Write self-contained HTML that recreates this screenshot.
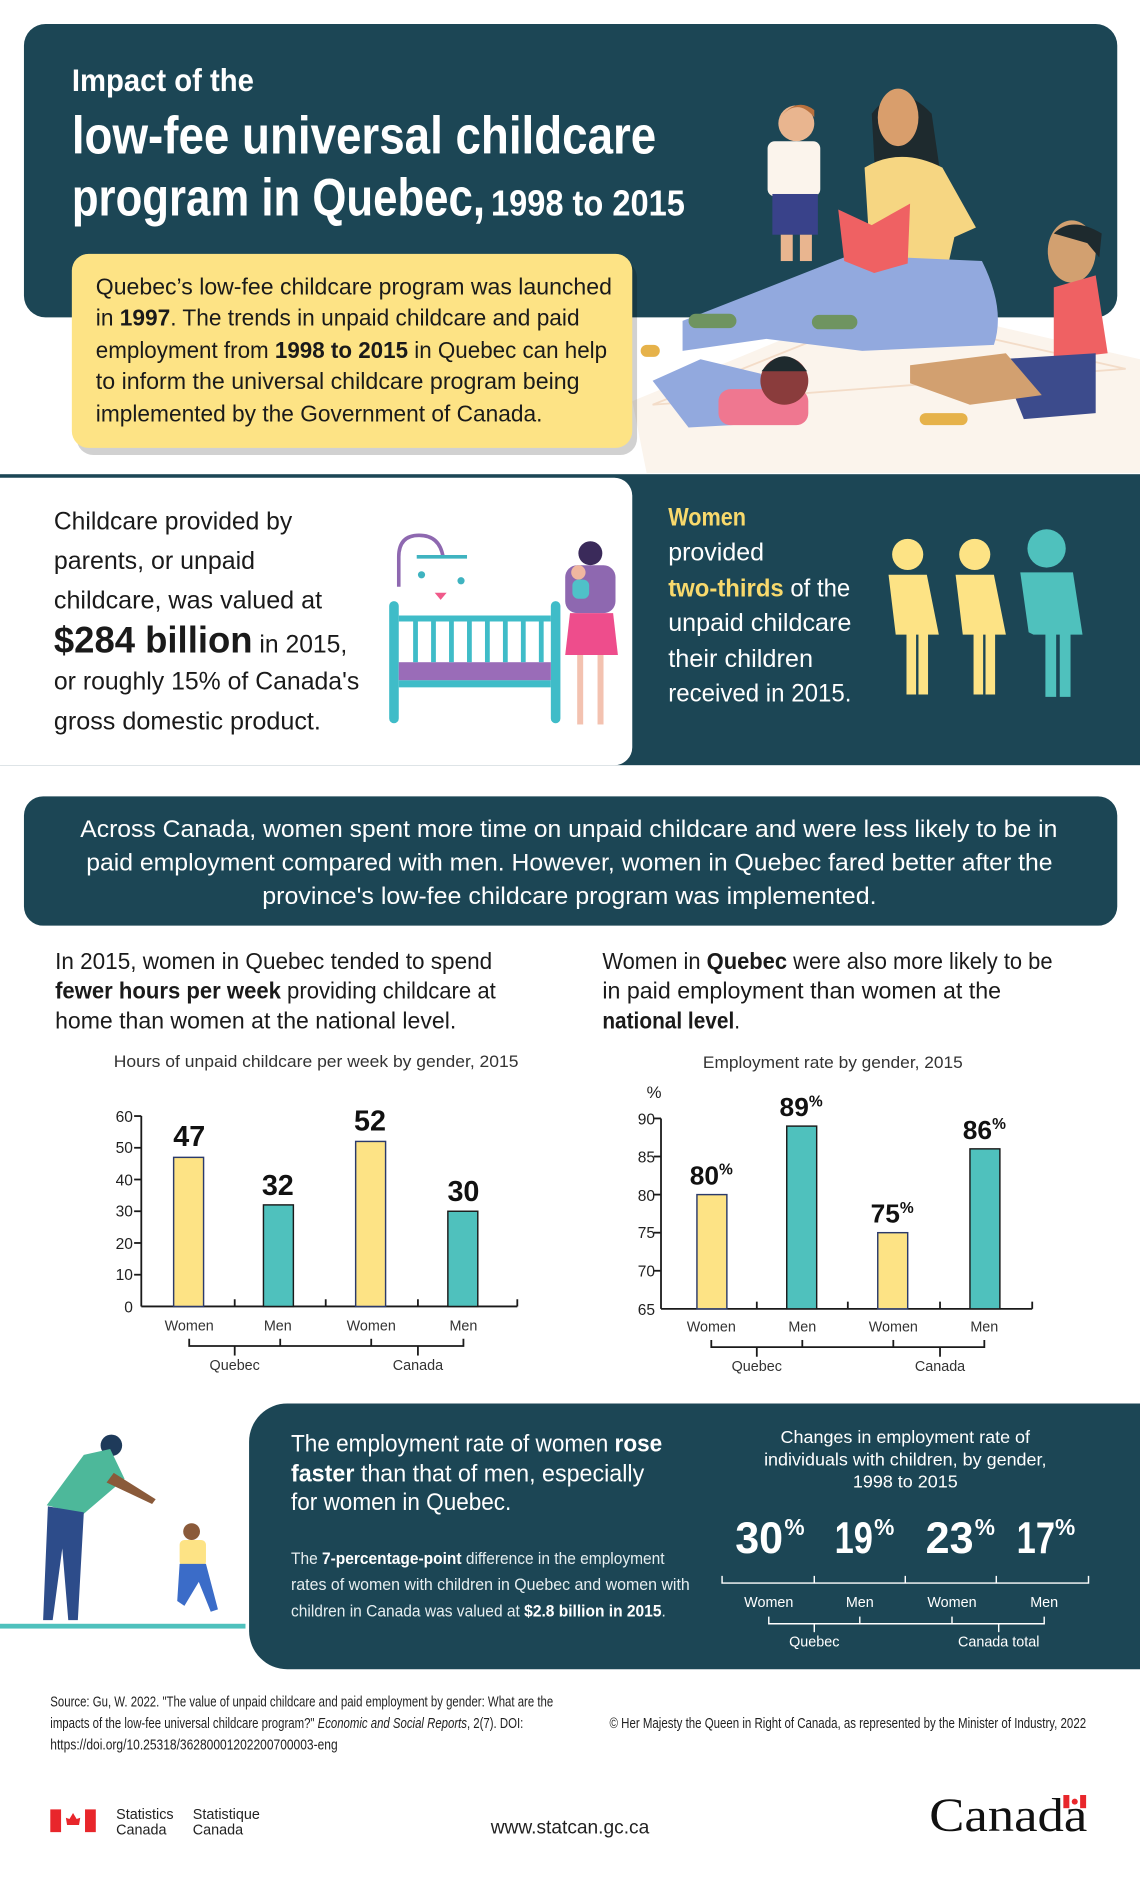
<!DOCTYPE html>
<html><head><meta charset="utf-8"><style>
html,body{margin:0;padding:0;background:#fff;}
svg{display:block;}
text{font-family:"Liberation Sans Narrow","Liberation Sans",sans-serif;}
</style></head><body>
<svg width="1140" height="1878" viewBox="0 0 952 1568.3" xmlns="http://www.w3.org/2000/svg">
<rect width="952" height="1569" fill="#fff"/>
<!-- top header -->
<rect x="20" y="20" width="913" height="245" rx="18" fill="#1c4655"/>
<!-- rug -->
<polygon points="528,335 735,250 952,300 952,395 540,395" fill="#fbf4ec"/>
<polygon points="545,338 735,262 940,308" fill="none" stroke="#f3dcc8" stroke-width="1.5"/>
<!-- standing child -->
<circle cx="665" cy="103" r="15" fill="#e9b58f"/>
<path d="M650,100 q15,-20 30,-2 l0,-6 q-15,-12 -30,8z" fill="#b8703d"/>
<rect x="641" y="118" width="44" height="46" rx="6" fill="#fbf4ec"/>
<rect x="645" y="162" width="38" height="34" fill="#39428a"/>
<rect x="652" y="196" width="10" height="22" fill="#e9b58f"/><rect x="668" y="196" width="10" height="22" fill="#e9b58f"/>
<!-- mother -->
<path d="M728,95 q22,-30 50,0 l8,55 -55,0z" fill="#1e2a2e"/>
<ellipse cx="750" cy="98" rx="17" ry="24" fill="#d99e6c"/>
<path d="M722,140 q30,-18 65,0 l28,50 -18,8 -5,22 -65,0z" fill="#f6d682"/>
<path d="M570,268 l140,-55 110,5 q20,40 10,70 l-110,5 -80,-10 -70,10z" fill="#92a9de"/>
<rect x="575" y="262" width="40" height="12" rx="6" fill="#6f9460"/>
<rect x="678" y="263" width="38" height="12" rx="6" fill="#6f9460"/>
<polygon points="700,175 728,188 760,170 758,220 730,228 705,218" fill="#ef6163"/>
<!-- girl lying -->
<path d="M545,318 l40,-18 50,12 30,40 -90,5 z" fill="#92a9de"/>
<rect x="600" y="325" width="75" height="30" rx="10" fill="#ef7790"/>
<circle cx="655" cy="318" r="20" fill="#8a3c3c"/>
<path d="M636,310 q19,-25 38,0z" fill="#1e2a2e"/>
<rect x="535" y="288" width="16" height="10" rx="5" fill="#e6b24a"/>
<!-- boy sitting -->
<ellipse cx="895" cy="210" rx="20" ry="26" fill="#d2a070"/>
<path d="M880,195 q15,-15 40,0 l-2,20 -10,-12z" fill="#1e2a2e"/>
<path d="M880,240 l35,-10 10,65 -45,5z" fill="#ef6163"/>
<path d="M835,300 l80,-5 0,50 -60,5z" fill="#3c4b8c"/>
<path d="M760,305 l80,-10 30,35 -60,8 -50,-18z" fill="#d2a070"/>
<rect x="768" y="345" width="40" height="10" rx="5" fill="#e6b24a"/>
<!-- title -->
<text x="60" y="76" font-size="26" font-weight="bold" fill="#fff" textLength="152" lengthAdjust="spacingAndGlyphs">Impact of the</text>
<text x="60" y="128" font-size="44" font-weight="bold" fill="#fff" textLength="488" lengthAdjust="spacingAndGlyphs">low-fee universal childcare</text>
<text x="60" y="180" font-size="44" font-weight="bold" fill="#fff" textLength="345" lengthAdjust="spacingAndGlyphs">program in Quebec,</text>
<text x="410" y="180" font-size="30" font-weight="bold" fill="#fff" textLength="162" lengthAdjust="spacingAndGlyphs">1998 to 2015</text>
<!-- yellow box -->
<rect x="64" y="218" width="468" height="162" rx="14" fill="#000" opacity="0.18"/>
<rect x="60" y="212" width="468" height="162" rx="14" fill="#fde385"/>
<g font-size="19" fill="#1a1a1a">
<text x="80" y="246" textLength="431" lengthAdjust="spacingAndGlyphs">Quebec’s low-fee childcare program was launched</text>
<text x="80" y="272" textLength="404" lengthAdjust="spacingAndGlyphs">in <tspan font-weight="bold">1997</tspan>. The trends in unpaid childcare and paid</text>
<text x="80" y="299" textLength="427" lengthAdjust="spacingAndGlyphs">employment from <tspan font-weight="bold">1998 to 2015</tspan> in Quebec can help</text>
<text x="80" y="325" textLength="404" lengthAdjust="spacingAndGlyphs">to inform the universal childcare program being</text>
<text x="80" y="352" textLength="373" lengthAdjust="spacingAndGlyphs">implemented by the Government of Canada.</text>
</g>
<!-- band 2 -->
<rect x="0" y="396" width="952" height="243" fill="#1c4655"/>
<path d="M0,399 h513 a15,15 0 0 1 15,15 v210 a15,15 0 0 1 -15,15 h-513z" fill="#fff"/>
<g font-size="21" fill="#1a1a1a">
<text x="45" y="442" textLength="199" lengthAdjust="spacingAndGlyphs">Childcare provided by</text>
<text x="45" y="475" textLength="168" lengthAdjust="spacingAndGlyphs">parents, or unpaid</text>
<text x="45" y="508" textLength="224" lengthAdjust="spacingAndGlyphs">childcare, was valued at</text>
<text x="45" y="545" textLength="245" lengthAdjust="spacingAndGlyphs"><tspan font-size="31" font-weight="bold">$284 billion</tspan> in 2015,</text>
<text x="45" y="576" textLength="255" lengthAdjust="spacingAndGlyphs">or roughly 15% of Canada's</text>
<text x="45" y="609" textLength="223" lengthAdjust="spacingAndGlyphs">gross domestic product.</text>
</g>
<!-- crib -->
<path d="M333,490 v-25 q0,-18 17,-18 q17,0 20,18" fill="none" stroke="#8e68b0" stroke-width="3"/>
<line x1="348" y1="465" x2="390" y2="465" stroke="#3fb3c0" stroke-width="3"/>
<circle cx="352" cy="480" r="3" fill="#3fb3c0"/><path d="M363,495 l5,6 5,-6z" fill="#f05a8a"/><circle cx="385" cy="485" r="3" fill="#3fb3c0"/>
<rect x="325" y="502" width="8" height="102" rx="4" fill="#3fbcc8"/>
<rect x="460" y="502" width="8" height="102" rx="4" fill="#3fbcc8"/>
<rect x="333" y="514" width="127" height="5" fill="#3fbcc8"/>
<rect x="333" y="568" width="127" height="6" fill="#3fbcc8"/>
<rect x="333" y="553" width="127" height="15" fill="#9a6cb8"/>
<g fill="#3fbcc8"><rect x="345" y="519" width="4" height="34"/><rect x="360" y="519" width="4" height="34"/><rect x="375" y="519" width="4" height="34"/><rect x="390" y="519" width="4" height="34"/><rect x="405" y="519" width="4" height="34"/><rect x="420" y="519" width="4" height="34"/><rect x="435" y="519" width="4" height="34"/><rect x="450" y="519" width="4" height="34"/></g>
<!-- mom w/ baby -->
<circle cx="493" cy="462" r="10" fill="#3a2a5a"/>
<rect x="472" y="472" width="42" height="40" rx="10" fill="#8e68b0"/>
<circle cx="483" cy="478" r="6" fill="#f0b7a0"/><rect x="478" y="484" width="14" height="16" rx="5" fill="#4fc1c8"/>
<path d="M476,512 h36 l4,35 h-44z" fill="#ee4d8c"/>
<rect x="482" y="547" width="5" height="58" fill="#f3c2b0"/><rect x="499" y="547" width="5" height="58" fill="#f3c2b0"/>
<!-- women text -->
<g font-size="21" fill="#fff">
<text x="558" y="439" font-weight="bold" fill="#f8d96c" textLength="65" lengthAdjust="spacingAndGlyphs">Women</text>
<text x="558" y="468" textLength="80" lengthAdjust="spacingAndGlyphs">provided</text>
<text x="558" y="498" textLength="152" lengthAdjust="spacingAndGlyphs"><tspan font-weight="bold" fill="#f8d96c">two-thirds</tspan> of the</text>
<text x="558" y="527" textLength="153" lengthAdjust="spacingAndGlyphs">unpaid childcare</text>
<text x="558" y="557" textLength="121" lengthAdjust="spacingAndGlyphs">their children</text>
<text x="558" y="586" textLength="153" lengthAdjust="spacingAndGlyphs">received in 2015.</text>
</g>
<!-- figures -->
<g fill="#fde385">
<circle cx="758" cy="463" r="13"/><path d="M742,480 h32 l10,50 h-9 v50 h-8 v-50 h-2 v50 h-8 v-50 h-9z"/>
<circle cx="814" cy="463" r="13"/><path d="M798,480 h32 l10,50 h-9 v50 h-8 v-50 h-2 v50 h-8 v-50 h-9z"/>
</g>
<g fill="#4fc1bd"><circle cx="874" cy="458" r="16"/><path d="M852,478 h44 l8,52 h-10 v52 h-9 v-52 h-3 v52 h-9 v-52 h-10 l-4,-2z"/></g>
<!-- banner -->
<rect x="20" y="665" width="913" height="108" rx="16" fill="#1c4655"/>
<g font-size="20" fill="#fff" style="font-family:'Liberation Sans',sans-serif">
<text x="67" y="699" style="font-family:'Liberation Sans',sans-serif" textLength="816" lengthAdjust="spacingAndGlyphs">Across Canada, women spent more time on unpaid childcare and were less likely to be in</text>
<text x="72" y="727" style="font-family:'Liberation Sans',sans-serif" textLength="807" lengthAdjust="spacingAndGlyphs">paid employment compared with men. However, women in Quebec fared better after the</text>
<text x="219" y="755" style="font-family:'Liberation Sans',sans-serif" textLength="513" lengthAdjust="spacingAndGlyphs">province's low-fee childcare program was implemented.</text>
</g>
<!-- chart texts -->
<g font-size="19" fill="#1a1a1a">
<text x="46" y="809" textLength="365" lengthAdjust="spacingAndGlyphs">In 2015, women in Quebec tended to spend</text>
<text x="46" y="834" textLength="368" lengthAdjust="spacingAndGlyphs"><tspan font-weight="bold">fewer hours per week</tspan> providing childcare at</text>
<text x="46" y="859" textLength="335" lengthAdjust="spacingAndGlyphs">home than women at the national level.</text>
<text x="503" y="809" textLength="376" lengthAdjust="spacingAndGlyphs">Women in <tspan font-weight="bold">Quebec</tspan> were also more likely to be</text>
<text x="503" y="834" textLength="333" lengthAdjust="spacingAndGlyphs">in paid employment than women at the</text>
<text x="503" y="859" textLength="115" lengthAdjust="spacingAndGlyphs"><tspan font-weight="bold">national level</tspan>.</text>
</g>
<g font-size="14" fill="#333">
<text x="95" y="891" textLength="338" lengthAdjust="spacingAndGlyphs">Hours of unpaid childcare per week by gender, 2015</text>
<text x="587" y="892" textLength="217" lengthAdjust="spacingAndGlyphs">Employment rate by gender, 2015</text>
</g>
<!-- chart 1 -->
<g stroke="#1a1a1a" stroke-width="1.5" fill="none">
<line x1="118" y1="932" x2="118" y2="1091"/><line x1="118" y1="1091" x2="432" y2="1091"/>
<line x1="112" y1="932" x2="118" y2="932"/><line x1="112" y1="958.5" x2="118" y2="958.5"/><line x1="112" y1="985" x2="118" y2="985"/><line x1="112" y1="1011.5" x2="118" y2="1011.5"/><line x1="112" y1="1038" x2="118" y2="1038"/><line x1="112" y1="1064.5" x2="118" y2="1064.5"/>
<line x1="196" y1="1085" x2="196" y2="1091"/><line x1="272" y1="1085" x2="272" y2="1091"/><line x1="349" y1="1085" x2="349" y2="1091"/><line x1="432" y1="1085" x2="432" y2="1091"/>
<polyline points="158,1118 158,1124 387,1124 387,1118"/><line x1="234" y1="1118" x2="234" y2="1124"/><line x1="310" y1="1118" x2="310" y2="1124"/>
<line x1="196" y1="1124" x2="196" y2="1132"/><line x1="349" y1="1124" x2="349" y2="1132"/>
</g>
<g stroke="#2b3a6b" stroke-width="1.2">
<rect x="145" y="966.5" width="25" height="124.5" fill="#fde385"/>
<rect x="220" y="1006.2" width="25" height="84.8" fill="#4fc1bd" stroke="#1a1a1a"/>
<rect x="297" y="953.2" width="25" height="137.8" fill="#fde385"/>
<rect x="374" y="1011.5" width="25" height="79.5" fill="#4fc1bd" stroke="#1a1a1a"/>
</g>
<g font-size="13" fill="#222" text-anchor="end">
<text x="111" y="937">60</text><text x="111" y="963">50</text><text x="111" y="990">40</text><text x="111" y="1016">30</text><text x="111" y="1043">20</text><text x="111" y="1069">10</text><text x="111" y="1096">0</text>
</g>
<g font-size="24" font-weight="bold" fill="#111" text-anchor="middle">
<text x="158" y="957">47</text><text x="232" y="998">32</text><text x="309" y="944">52</text><text x="387" y="1003">30</text>
</g>
<g font-size="12" fill="#333" text-anchor="middle">
<text x="158" y="1111">Women</text><text x="232" y="1111">Men</text><text x="310" y="1111">Women</text><text x="387" y="1111">Men</text>
<text x="196" y="1144">Quebec</text><text x="349" y="1144">Canada</text>
</g>
<!-- chart 2 -->
<g stroke="#1a1a1a" stroke-width="1.5" fill="none">
<line x1="552" y1="934" x2="552" y2="1093"/><line x1="552" y1="1093" x2="862" y2="1093"/>
<line x1="546" y1="934" x2="552" y2="934"/><line x1="546" y1="965.8" x2="552" y2="965.8"/><line x1="546" y1="997.6" x2="552" y2="997.6"/><line x1="546" y1="1029.4" x2="552" y2="1029.4"/><line x1="546" y1="1061.2" x2="552" y2="1061.2"/>
<line x1="632" y1="1087" x2="632" y2="1093"/><line x1="708" y1="1087" x2="708" y2="1093"/><line x1="785" y1="1087" x2="785" y2="1093"/><line x1="862" y1="1087" x2="862" y2="1093"/>
<polyline points="594,1119 594,1125 822,1125 822,1119"/><line x1="670" y1="1119" x2="670" y2="1125"/><line x1="746" y1="1119" x2="746" y2="1125"/>
<line x1="632" y1="1125" x2="632" y2="1133"/><line x1="785" y1="1125" x2="785" y2="1133"/>
</g>
<g stroke="#2b3a6b" stroke-width="1.2">
<rect x="582" y="997.6" width="25" height="95.4" fill="#fde385"/>
<rect x="657" y="940.4" width="25" height="152.6" fill="#4fc1bd" stroke="#1a1a1a"/>
<rect x="733" y="1029.4" width="25" height="63.6" fill="#fde385"/>
<rect x="810" y="959.4" width="25" height="133.6" fill="#4fc1bd" stroke="#1a1a1a"/>
</g>
<g font-size="13" fill="#222" text-anchor="end">
<text x="547" y="939">90</text><text x="547" y="971">85</text><text x="547" y="1003">80</text><text x="547" y="1034">75</text><text x="547" y="1066">70</text><text x="547" y="1098">65</text>
</g>
<text x="540" y="917" font-size="14" fill="#222">%</text>
<g font-size="22" font-weight="bold" fill="#111">
<text x="576" y="989">80<tspan font-size="13" dy="-8">%</tspan></text>
<text x="651" y="932">89<tspan font-size="13" dy="-8">%</tspan></text>
<text x="727" y="1021">75<tspan font-size="13" dy="-8">%</tspan></text>
<text x="804" y="951">86<tspan font-size="13" dy="-8">%</tspan></text>
</g>
<g font-size="12" fill="#333" text-anchor="middle">
<text x="594" y="1112">Women</text><text x="670" y="1112">Men</text><text x="746" y="1112">Women</text><text x="822" y="1112">Men</text>
<text x="632" y="1145">Quebec</text><text x="785" y="1145">Canada</text>
</g>
<!-- dad illustration -->
<rect x="0" y="1356" width="205" height="4" fill="#4fc1bd"/>
<circle cx="93" cy="1207" r="9" fill="#1e3a5a"/>
<path d="M70,1215 l22,-5 12,25 -35,30 -30,-8z" fill="#4db89a"/>
<path d="M40,1258 l30,5 -5,90 h-8 l-5,-60 -8,60 h-8z" fill="#2d4c8a"/>
<path d="M95,1230 l35,22 -3,4 -38,-18z" fill="#8a5a3a"/>
<circle cx="160" cy="1279" r="7" fill="#8a5a3a"/>
<rect x="150" y="1286" width="22" height="22" rx="4" fill="#fde385"/>
<path d="M150,1306 h22 l10,38 -6,2 -10,-25 -12,20 -6,-4z" fill="#3b6cc8"/>
<!-- bottom box -->
<path d="M240,1172 H952 V1394 H240 a32,32 0 0 1 -32,-32 V1204 a32,32 0 0 1 32,-32z" fill="#1c4655"/>
<g font-size="20" fill="#fff">
<text x="243" y="1212" textLength="310" lengthAdjust="spacingAndGlyphs">The employment rate of women <tspan font-weight="bold">rose</tspan></text>
<text x="243" y="1237" textLength="295" lengthAdjust="spacingAndGlyphs"><tspan font-weight="bold">faster</tspan> than that of men, especially</text>
<text x="243" y="1261" textLength="184" lengthAdjust="spacingAndGlyphs">for women in Quebec.</text>
</g>
<g font-size="14" fill="#e6eef0">
<text x="243" y="1306" textLength="312" lengthAdjust="spacingAndGlyphs">The <tspan font-weight="bold" fill="#fff">7-percentage-point</tspan> difference in the employment</text>
<text x="243" y="1328" textLength="333" lengthAdjust="spacingAndGlyphs">rates of women with children in Quebec and women with</text>
<text x="243" y="1350" textLength="313" lengthAdjust="spacingAndGlyphs">children in Canada was valued at <tspan font-weight="bold" fill="#fff">$2.8 billion in 2015</tspan>.</text>
</g>
<g font-size="15" fill="#fff" text-anchor="middle">
<text x="756" y="1205">Changes in employment rate of</text>
<text x="756" y="1224">individuals with children, by gender,</text>
<text x="756" y="1242">1998 to 2015</text>
</g>
<g font-size="37" font-weight="bold" fill="#fff">
<text x="614" y="1297" textLength="40" lengthAdjust="spacingAndGlyphs">30</text><text x="655" y="1282" font-size="19">%</text>
<text x="697" y="1297" textLength="32" lengthAdjust="spacingAndGlyphs">19</text><text x="730" y="1282" font-size="19">%</text>
<text x="773" y="1297" textLength="40" lengthAdjust="spacingAndGlyphs">23</text><text x="814" y="1282" font-size="19">%</text>
<text x="849" y="1297" textLength="32" lengthAdjust="spacingAndGlyphs">17</text><text x="881" y="1282" font-size="19">%</text>
</g>
<g stroke="#fff" stroke-width="1.2" fill="none">
<polyline points="603,1316 603,1322 909,1322 909,1316"/><line x1="680" y1="1316" x2="680" y2="1322"/><line x1="756" y1="1316" x2="756" y2="1322"/><line x1="832" y1="1316" x2="832" y2="1322"/>
<polyline points="642,1350 642,1356 872,1356 872,1350"/><line x1="718" y1="1350" x2="718" y2="1356"/><line x1="795" y1="1350" x2="795" y2="1356"/>
<line x1="680" y1="1356" x2="680" y2="1363"/><line x1="834" y1="1356" x2="834" y2="1363"/>
</g>
<g font-size="12" fill="#fff" text-anchor="middle">
<text x="642" y="1342">Women</text><text x="718" y="1342">Men</text><text x="795" y="1342">Women</text><text x="872" y="1342">Men</text>
<text x="680" y="1375">Quebec</text><text x="834" y="1375">Canada total</text>
</g>
<!-- footer -->
<g font-size="12" fill="#222">
<text x="42" y="1425" textLength="420" lengthAdjust="spacingAndGlyphs">Source: Gu, W. 2022. "The value of unpaid childcare and paid employment by gender: What are the</text>
<text x="42" y="1443" textLength="395" lengthAdjust="spacingAndGlyphs">impacts of the low-fee universal childcare program?"  <tspan font-style="italic">Economic and Social Reports</tspan>, 2(7). DOI:</text>
<text x="42" y="1461" textLength="240" lengthAdjust="spacingAndGlyphs">https://doi.org/10.25318/36280001202200700003-eng</text>
<text x="509" y="1443" textLength="398" lengthAdjust="spacingAndGlyphs">© Her Majesty the Queen in Right of Canada, as represented by the Minister of Industry, 2022</text>
</g>
<rect x="42" y="1511" width="9" height="19" fill="#e8262b"/><rect x="71" y="1511" width="9" height="19" fill="#e8262b"/>
<path d="M61,1514 l3,5 3,-1 -1,6 -5,0 -5,0 -1,-6 3,1z" fill="#e8262b"/>
<g font-size="12" fill="#222"><text x="97" y="1519">Statistics</text><text x="97" y="1532">Canada</text><text x="161" y="1519">Statistique</text><text x="161" y="1532">Canada</text></g>
<text x="476" y="1531" font-size="16" fill="#222" text-anchor="middle" style="font-family:'Liberation Sans',sans-serif">www.statcan.gc.ca</text>
<text x="776" y="1529" font-size="40" fill="#111" style="font-family:'Liberation Serif',serif" textLength="132" lengthAdjust="spacingAndGlyphs">Canada</text>
<rect x="888" y="1499" width="19" height="11" fill="#fff"/><rect x="888" y="1499" width="5" height="11" fill="#e8262b"/><rect x="902" y="1499" width="5" height="11" fill="#e8262b"/><circle cx="897.5" cy="1504.5" r="2.5" fill="#e8262b"/>
</svg>
</body></html>
